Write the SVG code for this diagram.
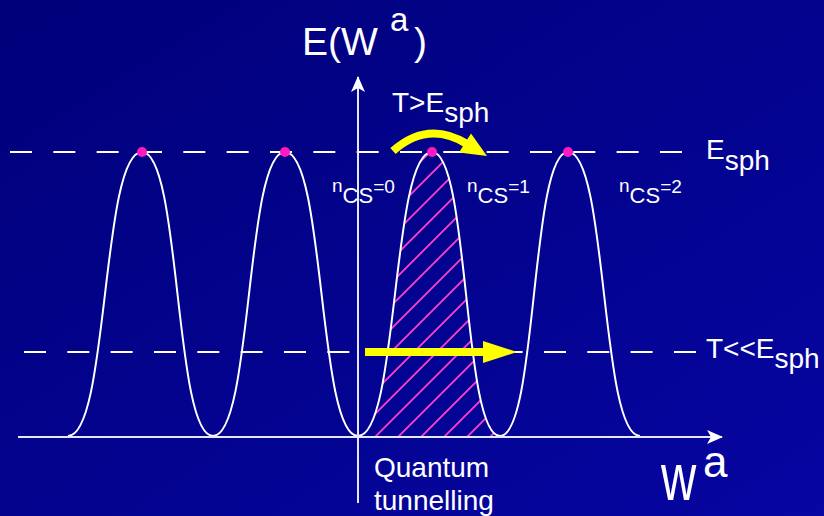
<svg xmlns="http://www.w3.org/2000/svg" width="824" height="516" viewBox="0 0 824 516">
<defs>
<linearGradient id="bg" x1="0" y1="0" x2="1" y2="1">
<stop offset="0" stop-color="#00007a"/>
<stop offset="1" stop-color="#0606a2"/>
</linearGradient>
<pattern id="hatch" patternUnits="userSpaceOnUse" x="7" y="0" width="23" height="23">
<path d="M-3,3 L3,-3 M0,23 L23,0 M20,26 L26,20" stroke="#ff3dc8" stroke-width="1.8" fill="none"/>
</pattern>
<clipPath id="bump3">
<path d="M358,436 C398.7,436 391.3,152 432,152 C469.4,152 462.6,436 500,436 Z"/>
</clipPath>
<marker id="ax" viewBox="0 0 16 14" refX="15" refY="7" markerWidth="16" markerHeight="14" markerUnits="userSpaceOnUse" orient="auto">
<path d="M0,0 L16,7 L0,14 L4,7 Z" fill="#ffffff"/>
</marker>
</defs>
<style>
.t{font-family:"Liberation Sans",Arial,sans-serif;fill:#ffffff}
.dash{stroke:#ffffff;stroke-width:2;stroke-dasharray:22 21.33;fill:none}
.curve{stroke:#ffffff;stroke-width:2;fill:none}
.axis{stroke:#e6e6ff;stroke-width:2;fill:none}
.dot{fill:#ff19c0}
.yel{stroke:#ffff00;stroke-width:8;fill:none}
</style>
<rect x="0" y="0" width="824" height="516" fill="url(#bg)"/>

<g id="hatched-area">
<rect x="358" y="150" width="143" height="288" fill="url(#hatch)" clip-path="url(#bump3)"/>
</g>

<g id="levels">
<line class="dash" x1="10" y1="152" x2="683" y2="152"/>
<line class="dash" x1="24" y1="352" x2="697" y2="352"/>
</g>

<g id="potential">
<path class="curve" d="M68,436 C108.7,436 101.3,152 142,152 C181,152 174,436 213,436 C252.6,436 245.4,152 285,152 C325.2,152 317.9,436 358,436 C398.7,436 391.3,152 432,152 C469.4,152 462.6,436 500,436 C537.4,436 530.6,152 568,152 C607.6,152 600.4,436 640,436"/>
</g>

<g id="axes">
<line class="axis" x1="18" y1="437" x2="722" y2="437" marker-end="url(#ax)"/>
<line class="axis" x1="358" y1="503" x2="358" y2="77" marker-end="url(#ax)"/>
</g>

<g id="sphalerons">
<circle class="dot" cx="142" cy="152" r="5"/>
<circle class="dot" cx="285" cy="152" r="5"/>
<circle class="dot" cx="432" cy="152" r="5"/>
<circle class="dot" cx="568" cy="152" r="5"/>
</g>

<g id="connectors">
<path class="yel" d="M393,151 Q428,120 467,144"/>
<polygon points="487,156 459,152.5 471,133.5" fill="#ffff00"/>
<line class="yel" x1="365" y1="352" x2="486" y2="352"/>
<polygon points="517,352 483,341 483,363" fill="#ffff00"/>
</g>

<g id="labels">
<text class="t" x="302" y="55" font-size="39">E(W</text>
<text class="t" x="390" y="30.5" font-size="33">a</text>
<text class="t" x="414" y="55" font-size="39">)</text>
<text class="t" x="392" y="112" font-size="28">T&gt;E<tspan dy="10">sph</tspan></text>
<text class="t" x="706" y="159" font-size="28">E<tspan dy="11">sph</tspan></text>
<text class="t" x="706" y="358" font-size="28">T&lt;&lt;E<tspan dy="10">sph</tspan></text>
<text class="t" x="332" y="192" font-size="19">n<tspan font-size="22" dy="11">CS</tspan><tspan dy="-10">=0</tspan></text>
<text class="t" x="467" y="192" font-size="19">n<tspan font-size="22" dy="11">CS</tspan><tspan dy="-10">=1</tspan></text>
<text class="t" x="619" y="192" font-size="19">n<tspan font-size="22" dy="11">CS</tspan><tspan dy="-10">=2</tspan></text>
<text class="t" x="374" y="477" font-size="28">Quantum</text>
<text class="t" x="374" y="510" font-size="28">tunnelling</text>
<text class="t" transform="translate(661,500) scale(0.74,1)" x="0" y="0" font-size="66">w</text>
<text class="t" x="703" y="477" font-size="44">a</text>
</g>
</svg>
